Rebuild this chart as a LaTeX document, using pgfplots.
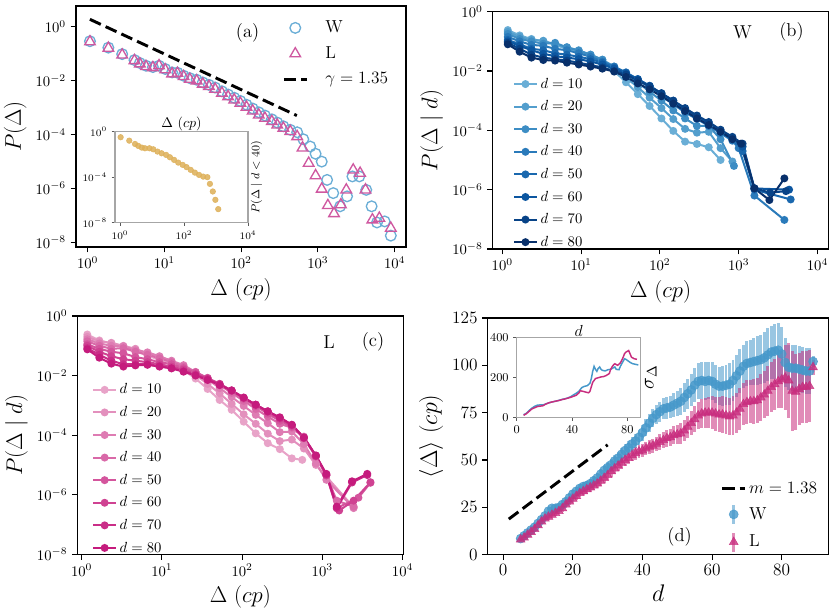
\RequirePackage{fix-cm}
\documentclass[border=0pt]{standalone}
\usepackage{pgfplots}
\usepackage{pgfplotstable}
\pgfplotsset{compat=1.18}
\definecolor{Wa}{RGB}{107,174,214}
\definecolor{La}{RGB}{207,88,160}
\definecolor{Wd}{RGB}{70,152,202}
\definecolor{Ld}{RGB}{200,45,126}
\definecolor{gold}{RGB}{222,176,88}
\definecolor{bA}{RGB}{106,174,214}
\definecolor{bB}{RGB}{83,158,205}
\definecolor{bC}{RGB}{61,141,196}
\definecolor{bD}{RGB}{42,122,186}
\definecolor{bE}{RGB}{26,104,174}
\definecolor{bF}{RGB}{12,86,160}
\definecolor{bG}{RGB}{8,67,135}
\definecolor{bH}{RGB}{8,48,107}
\definecolor{cA}{RGB}{232,163,200}
\definecolor{cB}{RGB}{227,144,189}
\definecolor{cC}{RGB}{222,124,179}
\definecolor{cD}{RGB}{217,105,168}
\definecolor{cE}{RGB}{212,85,157}
\definecolor{cF}{RGB}{207,66,146}
\definecolor{cG}{RGB}{202,46,136}
\definecolor{cH}{RGB}{197,27,125}
\pgfplotstableread{
d m e
5 8.5 1.2
6 10 1.2
7 11.5 1.2
8 13 1.2
9 14.5 1.3
10 16.5 1.3
11 18.5 1.4
12 20.5 1.5
13 23 1.6
14 24.5 1.7
15 24.5 1.8
16 25 1.9
17 26.5 2
18 28 2
19 30 2.1
20 32 2.2
21 33.5 2.3
22 35 2.3
23 36 2.4
24 36.5 2.5
25 37.5 2.5
26 39 2.6
27 40.5 2.7
28 42.5 2.8
29 44.5 2.9
30 46 3
31 47.5 3.1
32 49.5 3.2
33 51 3.3
34 53 3.4
35 55 3.5
36 56.5 3.6
37 58.5 3.7
38 60 3.8
39 62 4
40 64.5 4.2
41 67 4.4
42 69.5 4.6
43 72 4.8
44 74 5
45 75.5 5.2
46 77 5.5
47 77.5 5.8
48 78 6
49 79 6.3
50 80 6.6
51 81 7
52 83 7.5
53 85 8
54 87 8.5
55 89.5 9
56 91.5 9.5
57 92 10
58 91.5 10
59 92 10
60 91.5 10
61 90 10
62 89 10
63 89 10.5
64 89.5 10.5
65 90 11
66 92 11
67 94.5 11
68 97 11.5
69 99.5 11.5
70 101 12
71 101.5 12
72 102 12.5
73 102.5 13
74 103 13
75 104 13.5
76 105.5 14
77 107 14
78 107.5 14.5
79 108 14.5
80 106 14
81 101.5 13
82 99 12
83 98.5 12
84 98.5 12
85 98 12
86 97.5 12
87 97 12
88 97 12
89 102 3
}\Wtab
\pgfplotstableread{
d m e
5 8 1
6 9 1
7 10.5 1
8 12 1.1
9 13.5 1.1
10 15.5 1.2
11 17.5 1.3
12 19 1.4
13 20 1.5
14 21 1.5
15 22 1.6
16 23 1.7
17 24.5 1.8
18 26.5 1.8
19 28 1.9
20 29.5 2
21 31 2
22 32.5 2.1
23 33.5 2.2
24 34.5 2.2
25 35.5 2.3
26 36.5 2.4
27 37.5 2.5
28 39 2.5
29 40.5 2.6
30 42 2.7
31 44 2.8
32 45.5 2.8
33 47 2.9
34 48.5 3
35 50 3
36 51 3.1
37 52.5 3.2
38 53.5 3.3
39 54.5 3.4
40 55 3.5
41 56 3.6
42 57 3.7
43 57.5 3.8
44 58.5 3.9
45 59.5 4
46 60.5 4.2
47 61.5 4.4
48 62 4.6
49 63 4.8
50 63.5 5
51 64 5.3
52 65.5 5.6
53 67.5 6
54 69.5 6.4
55 71.5 6.8
56 73.5 7.2
57 74.5 7.6
58 75 8
59 75 8.3
60 75 8.6
61 74.5 9
62 74 9.3
63 74 9.6
64 73.5 10
65 73 10
66 73.5 10.5
67 75 10.5
68 77 11
69 79.5 11
70 80.5 11.5
71 81 11.5
72 81 12
73 81.5 12
74 83 12.5
75 84.5 12.5
76 86.5 13
77 88.5 13
78 90 13.5
79 91.5 14
80 92.5 15
81 93.5 17
82 92 20
83 86.5 21
84 86 20
85 87.5 19
86 88.5 19
87 88.5 19
88 89 19
89 99 4
}\Ltab
\begin{document}
\begin{tikzpicture}
% ---------------- (a)
\begin{axis}[scale only axis, anchor=south west, at={(57pt,275.25pt)}, width=247.5pt, height=180.75pt,
  xmode=log, ymode=log, xminorticks=false, yminorticks=false,
  xtick={1,10,100,1000,10000}, ytick={1e-8,1e-6,1e-4,1e-2,1},
  axis line style={line width=0.8pt}, tick align=outside, tick pos=left, major tick length=4pt,
  every tick/.style={black,line width=0.8pt},
  tick label style={font=\fontsize{11}{13}\selectfont},
  label style={font=\fontsize{17}{20}\selectfont},
  xmin=0.705, xmax=14060, ymin=6.6e-9, ymax=5.84,
  xlabel={$\Delta\ (cp)$}, ylabel={$P(\Delta)$},
  legend cell align=left,
  legend style={at={(0.955,0.95)}, anchor=north east, draw=none, fill=none, inner sep=0pt,
    row sep=5pt, font=\fontsize{13}{15}\selectfont, column sep=11pt}]
\addplot[only marks, mark=o, mark size=4pt, Wa, line width=1pt] coordinates {
(1.072,0.288)(1.862,0.166)(2.818,0.0955)(4.074,0.0575)(4.786,0.0447)(5.754,0.0355)(7.079,0.0316)(8.511,0.0355)(10.23,0.0269)(12.59,0.0200)(14.79,0.0195)(17.78,0.0151)(21.38,0.0123)(26.30,0.0107)(31.62,8.51e-3)(38.02,6.92e-3)(45.71,5.50e-3)(56.23,3.98e-3)(67.61,3.02e-3)(81.28,2.29e-3)(97.72,1.74e-3)(117.5,1.26e-3)(141.3,9.12e-4)(169.8,6.61e-4)(204.2,5.01e-4)(251.2,3.63e-4)(295.1,2.75e-4)(354.8,2.00e-4)(436.5,1.48e-4)(537.0,1.20e-4)(645.7,6.61e-5)(794.3,3.55e-5)(933.3,1.91e-5)(1122,9.77e-6)(1318,2.04e-6)(1585,6.61e-7)(1950,2.14e-7)(2399,5.01e-7)(2818,2.75e-6)(3467,2.75e-6)(4266,8.71e-7)(5012,2.14e-7)(5888,5.37e-8)(7413,5.89e-8)(8913,1.74e-8)};
\addlegendentry{W}
\addplot[only marks, mark=triangle, mark size=4.6pt, La, line width=1pt] coordinates {
(1.072,0.275)(1.862,0.1585)(2.818,0.0891)(4.074,0.0550)(4.786,0.0417)(5.754,0.0331)(7.079,0.0302)(8.511,0.0355)(10.23,0.0251)(12.59,0.0178)(14.79,0.0186)(17.78,0.0141)(21.38,0.0112)(26.30,9.77e-3)(31.62,7.41e-3)(38.02,6.03e-3)(45.71,4.79e-3)(56.23,3.39e-3)(67.61,2.51e-3)(81.28,1.91e-3)(97.72,1.445e-3)(117.5,1.023e-3)(141.3,7.41e-4)(169.8,5.25e-4)(204.2,3.98e-4)(251.2,3.02e-4)(295.1,2.24e-4)(354.8,1.70e-4)(436.5,1.29e-4)(537.0,8.32e-5)(631.0,3.16e-5)(758.6,8.51e-6)(933.3,2.95e-6)(1122,9.33e-7)(1349,2.29e-7)(1622,1.15e-7)(1995,2.45e-7)(2344,8.71e-7)(2884,4.79e-6)(3548,3.63e-6)(4169,8.71e-7)(5129,6.76e-8)(6310,7.76e-8)(8913,3.31e-8)};
\addlegendentry{L}
\addplot[black, line width=2.2pt, dash pattern=on 9pt off 4pt] coordinates {(1.07,1.87)(532,5.0e-4)};
\addlegendentry{$\gamma=1.35$}
\node[font=\fontsize{14}{16}\selectfont] at (rel axis cs:0.52,0.89) {(a)};
\end{axis}
% inset (a)
\begin{axis}[scale only axis, anchor=south west, at={(86.25pt,293.5pt)}, width=99.75pt, height=68.25pt,
  xmode=log, ymode=log, xmin=0.698, xmax=1e4, ymin=1e-8, ymax=1,
  xtick={1,100,10000}, ytick={1e-8,1e-4,1}, xminorticks=false, yminorticks=false,
  axis line style={gray!70, line width=0.8pt}, tick align=outside, tick pos=left,
  major tick length=2.5pt, every tick/.style={gray!70!black, line width=0.6pt},
  tick label style={font=\fontsize{7.5}{9}\selectfont},
  axis background/.style={fill=white},
  every axis x label/.style={at={(rel axis cs:0.5,1)}, anchor=south, inner sep=0.5pt, font=\fontsize{10.5}{12}\selectfont},
  every axis y label/.style={at={(rel axis cs:1,0.5)}, rotate=90, anchor=north, inner sep=2pt, font=\fontsize{8.5}{10}\selectfont},
  xlabel={$\Delta\ (cp)$}, ylabel={$P(\Delta\mid d<40)$}]
\addplot[only marks, mark=*, mark size=2.1pt, gold, mark options={fill=gold, draw=gold, opacity=0.85}] coordinates {
(1.047,0.324)(1.950,0.162)(2.951,0.0832)(3.715,0.0562)(4.786,0.0398)(6.026,0.0347)(8.318,0.0347)(10.96,0.0282)(14.79,0.0178)(19.95,0.0126)(27.54,9.12e-3)(36.31,5.62e-3)(48.98,3.31e-3)(66.07,1.91e-3)(91.20,1.20e-3)(120.2,7.59e-4)(162.2,4.37e-4)(218.8,2.51e-4)(295.1,1.585e-4)(398.1,1.12e-4)(537.0,1.0e-4)(645.7,2.57e-5)(794.3,5.50e-6)(955.0,1.02e-6)(1175,1.55e-7)};
\end{axis}
% ---------------- (b)
\begin{axis}[scale only axis, anchor=south west, at={(369.5pt,273.75pt)}, width=251.85pt, height=178pt,
  xmode=log, ymode=log, xminorticks=false, yminorticks=false,
  xtick={1,10,100,1000,10000}, ytick={1e-8,1e-6,1e-4,1e-2,1},
  axis line style={line width=0.8pt}, tick align=outside, tick pos=left, major tick length=4pt,
  every tick/.style={black,line width=0.8pt},
  tick label style={font=\fontsize{11}{13}\selectfont},
  label style={font=\fontsize{17}{20}\selectfont},
  xmin=0.755, xmax=13800, ymin=1e-8, ymax=1,
  xlabel={$\Delta\ (cp)$}, ylabel={$P(\Delta\;|\;d)$},
  legend cell align=left,
  legend style={at={(0.06,0.733)}, anchor=north west, draw=none, fill=none, inner sep=0pt,
    row sep=3.8pt, font=\fontsize{11}{13}\selectfont}]
\addplot[bA, mark=*, mark size=2.2pt, line width=1.5pt, mark options={fill=bA}] coordinates {(1.175,0.240)(1.660,0.1585)(2.344,0.1202)(3.311,0.1)(4.677,0.0759)(6.607,0.0562)(9.333,0.0468)(13.18,0.0316)(18.62,0.0209)(26.30,0.0100)(37.15,4.17e-3)(52.48,1.66e-3)(74.13,6.61e-4)(104.7,2.51e-4)(147.9,9.55e-5)(208.9,4.17e-5)(295.1,3.47e-5)(416.9,2.69e-5)(588.8,1.0e-5)};
\addlegendentry{$d=10$}
\addplot[bB, mark=*, mark size=2.2pt, line width=1.5pt, mark options={fill=bB}] coordinates {(1.175,0.209)(1.660,0.1413)(2.344,0.1122)(3.311,0.1047)(4.677,0.0794)(6.607,0.0631)(9.333,0.0501)(13.18,0.0355)(18.62,0.0240)(26.30,0.0120)(37.15,6.03e-3)(52.48,2.82e-3)(74.13,1.26e-3)(104.7,5.62e-4)(147.9,2.40e-4)(208.9,1.12e-4)(295.1,8.32e-5)(416.9,8.91e-5)(588.8,2.51e-5)(831.8,8.91e-6)};
\addlegendentry{$d=20$}
\addplot[bC, mark=*, mark size=2.2pt, line width=1.5pt, mark options={fill=bC}] coordinates {(1.175,0.178)(1.660,0.1202)(2.344,0.1)(3.311,0.0832)(4.677,0.0891)(6.607,0.0631)(9.333,0.0479)(13.18,0.0355)(18.62,0.0240)(26.30,0.0141)(37.15,7.94e-3)(52.48,4.17e-3)(74.13,2.0e-3)(104.7,1.0e-3)(147.9,4.68e-4)(208.9,2.51e-4)(295.1,1.41e-4)(416.9,1.41e-4)(588.8,5.01e-5)(871,6.31e-6)};
\addlegendentry{$d=30$}
\addplot[bD, mark=*, mark size=2.2pt, line width=1.5pt, mark options={fill=bD}] coordinates {(1.175,0.1413)(1.660,0.1)(2.344,0.0759)(3.311,0.0708)(4.677,0.0562)(6.607,0.0501)(9.333,0.0398)(13.18,0.0302)(18.62,0.0209)(26.30,0.0141)(37.15,8.91e-3)(52.48,5.01e-3)(74.13,2.82e-3)(104.7,1.41e-3)(147.9,7.59e-4)(208.9,3.98e-4)(295.1,2.40e-4)(416.9,1.41e-4)(588.8,7.94e-5)(831.8,4.47e-5)(1000,2.51e-5)(1585,6.31e-7)(3802,9.55e-8)};
\addlegendentry{$d=40$}
\addplot[bE, mark=*, mark size=2.2pt, line width=1.5pt, mark options={fill=bE}] coordinates {(1.175,0.1122)(1.660,0.0794)(2.344,0.0562)(3.311,0.0501)(4.677,0.0398)(6.607,0.0355)(9.333,0.0302)(13.18,0.0251)(18.62,0.0191)(26.30,0.0132)(37.15,8.91e-3)(52.48,5.37e-3)(74.13,3.16e-3)(104.7,1.66e-3)(147.9,8.91e-4)(208.9,4.79e-4)(295.1,2.63e-4)(416.9,1.585e-4)(588.8,8.91e-5)(831.8,5.01e-5)(1122,2.0e-5)(1585,1.0e-6)(4571,4.68e-7)};
\addlegendentry{$d=50$}
\addplot[bF, mark=*, mark size=2.2pt, line width=1.5pt, mark options={fill=bF}] coordinates {(1.175,0.1)(1.660,0.0708)(2.344,0.0501)(3.311,0.0380)(4.677,0.0316)(6.607,0.0282)(9.333,0.0251)(13.18,0.0209)(18.62,0.0166)(26.30,0.0120)(37.15,8.32e-3)(52.48,5.25e-3)(74.13,3.16e-3)(104.7,1.78e-3)(147.9,1.0e-3)(208.9,5.25e-4)(295.1,3.02e-4)(416.9,1.78e-4)(588.8,1.0e-4)(831.8,5.62e-5)(1122,2.82e-5)(1585,1.10e-6)(4365,1.0e-6)};
\addlegendentry{$d=60$}
\addplot[bG, mark=*, mark size=2.2pt, line width=1.5pt, mark options={fill=bG}] coordinates {(1.175,0.0891)(1.660,0.0562)(2.344,0.0355)(3.311,0.0282)(4.677,0.0251)(6.607,0.0224)(9.333,0.0191)(13.18,0.0158)(18.62,0.0132)(26.30,0.0100)(37.15,7.59e-3)(52.48,4.79e-3)(74.13,3.02e-3)(104.7,1.78e-3)(147.9,1.0e-3)(208.9,5.62e-4)(295.1,3.16e-4)(416.9,1.91e-4)(588.8,1.05e-4)(831.8,6.03e-5)(1122,3.55e-5)(1585,1.12e-6)(2512,7.94e-7)(3981,8.91e-7)};
\addlegendentry{$d=70$}
\addplot[bH, mark=*, mark size=2.2pt, line width=1.5pt, mark options={fill=bH}] coordinates {(1.175,0.0794)(1.660,0.0447)(2.344,0.0282)(3.311,0.0234)(4.677,0.0224)(6.607,0.0191)(9.333,0.0166)(13.18,0.0141)(18.62,0.0120)(26.30,9.55e-3)(37.15,6.31e-3)(52.48,3.80e-3)(74.13,2.40e-3)(104.7,1.41e-3)(147.9,7.94e-4)(208.9,4.47e-4)(295.1,2.51e-4)(416.9,1.51e-4)(588.8,8.91e-5)(831.8,5.01e-5)(1072,3.55e-5)(1585,1.10e-6)(2455,4.47e-7)(3802,2.40e-6)};
\addlegendentry{$d=80$}
\node[font=\fontsize{14}{16}\selectfont] at (rel axis cs:0.744,0.914) {W};
\node[font=\fontsize{14}{16}\selectfont] at (rel axis cs:0.89,0.914) {(b)};
\end{axis}
% ---------------- (c)
\begin{axis}[scale only axis, anchor=south west, at={(58pt,44.8pt)}, width=244.5pt, height=178.7pt,
  xmode=log, ymode=log, xminorticks=false, yminorticks=false,
  xtick={1,10,100,1000,10000}, ytick={1e-8,1e-6,1e-4,1e-2,1},
  axis line style={line width=0.8pt}, tick align=outside, tick pos=left, major tick length=4pt,
  every tick/.style={black,line width=0.8pt},
  tick label style={font=\fontsize{11}{13}\selectfont},
  label style={font=\fontsize{17}{20}\selectfont},
  xmin=0.883, xmax=10230, ymin=1e-8, ymax=1,
  xlabel={$\Delta\ (cp)$}, ylabel={$P(\Delta\;|\;d)$},
  legend cell align=left,
  legend style={at={(0.045,0.728)}, anchor=north west, draw=none, fill=none, inner sep=0pt,
    row sep=3.8pt, font=\fontsize{11}{13}\selectfont}]
\addplot[cA, mark=*, mark size=2.2pt, line width=1.5pt, mark options={fill=cA}] coordinates {(1.175,0.240)(1.660,0.1514)(2.344,0.1202)(3.311,0.0891)(4.677,0.0661)(6.607,0.0479)(9.333,0.0331)(13.18,0.0240)(18.62,0.01514)(26.30,7.94e-3)(37.15,3.55e-3)(52.48,1.514e-3)(74.13,7.08e-4)(104.7,2.82e-4)(147.9,1.148e-4)(208.9,5.37e-5)(295.1,3.39e-5)(416.9,1.66e-5)(562.3,1.479e-5)};
\addlegendentry{$d=10$}
\addplot[cB, mark=*, mark size=2.2pt, line width=1.5pt, mark options={fill=cB}] coordinates {(1.175,0.1995)(1.660,0.1413)(2.344,0.1259)(3.311,0.1)(4.677,0.0794)(6.607,0.0562)(9.333,0.0417)(13.18,0.0282)(18.62,0.0191)(26.30,0.01047)(37.15,5.25e-3)(52.48,2.51e-3)(74.13,1.12e-3)(104.7,5.01e-4)(147.9,2.40e-4)(208.9,1.12e-4)(295.1,6.31e-5)(416.9,7.08e-5)(588.8,3.55e-5)(831.8,1.0e-5)(2455,3.80e-7)};
\addlegendentry{$d=20$}
\addplot[cC, mark=*, mark size=2.2pt, line width=1.5pt, mark options={fill=cC}] coordinates {(1.175,0.166)(1.660,0.1202)(2.344,0.1)(3.311,0.0955)(4.677,0.0708)(6.607,0.0603)(9.333,0.0447)(13.18,0.0316)(18.62,0.0224)(26.30,0.0132)(37.15,7.59e-3)(52.48,3.80e-3)(74.13,1.91e-3)(104.7,9.55e-4)(147.9,4.79e-4)(208.9,2.51e-4)(295.1,1.26e-4)(416.9,1.32e-4)(588.8,5.01e-5)(831.8,1.12e-5)(1122,3.16e-6)(2455,3.55e-7)};
\addlegendentry{$d=30$}
\addplot[cD, mark=*, mark size=2.2pt, line width=1.5pt, mark options={fill=cD}] coordinates {(1.175,0.1413)(1.660,0.1)(2.344,0.0794)(3.311,0.0832)(4.677,0.0631)(6.607,0.0501)(9.333,0.0380)(13.18,0.0282)(18.62,0.0200)(26.30,0.0132)(37.15,8.32e-3)(52.48,4.79e-3)(74.13,2.63e-3)(104.7,1.41e-3)(147.9,7.59e-4)(208.9,4.17e-4)(295.1,2.40e-4)(416.9,1.78e-4)(588.8,8.91e-5)(831.8,2.0e-5)(1122,4.47e-6)(1514,6.31e-7)(2455,3.98e-7)};
\addlegendentry{$d=40$}
\addplot[cE, mark=*, mark size=2.2pt, line width=1.5pt, mark options={fill=cE}] coordinates {(1.175,0.1122)(1.660,0.0794)(2.344,0.0631)(3.311,0.0562)(4.677,0.0417)(6.607,0.0355)(9.333,0.0282)(13.18,0.0240)(18.62,0.0178)(26.30,0.0126)(37.15,8.32e-3)(52.48,5.25e-3)(74.13,3.02e-3)(104.7,1.66e-3)(147.9,9.55e-4)(208.9,5.25e-4)(295.1,3.02e-4)(416.9,1.91e-4)(588.8,7.94e-5)(831.8,1.91e-5)(1122,4.47e-6)(1514,3.55e-7)(2818,7.94e-7)(3981,2.51e-6)};
\addlegendentry{$d=50$}
\addplot[cF, mark=*, mark size=2.2pt, line width=1.5pt, mark options={fill=cF}] coordinates {(1.175,0.1)(1.660,0.0631)(2.344,0.0447)(3.311,0.0355)(4.677,0.0316)(6.607,0.0282)(9.333,0.0240)(13.18,0.0200)(18.62,0.01585)(26.30,0.0112)(37.15,7.94e-3)(52.48,5.25e-3)(74.13,3.16e-3)(104.7,1.78e-3)(147.9,1.05e-3)(208.9,6.03e-4)(295.1,3.55e-4)(416.9,2.09e-4)(588.8,7.94e-5)(831.8,2.0e-5)(1122,4.47e-6)(1622,2.95e-7)(2455,6.31e-7)(3981,2.63e-6)};
\addlegendentry{$d=60$}
\addplot[cG, mark=*, mark size=2.2pt, line width=1.5pt, mark options={fill=cG}] coordinates {(1.175,0.0832)(1.660,0.0501)(2.344,0.0316)(3.311,0.0240)(4.677,0.0240)(6.607,0.0240)(9.333,0.0209)(13.18,0.0178)(18.62,0.0141)(26.30,0.01047)(37.15,7.59e-3)(52.48,5.01e-3)(74.13,3.16e-3)(104.7,1.82e-3)(147.9,1.05e-3)(208.9,6.31e-4)(295.1,3.80e-4)(416.9,2.19e-4)(588.8,8.32e-5)(831.8,2.0e-5)(1122,4.79e-6)(1514,3.55e-7)(2344,2.57e-6)(3631,4.57e-6)};
\addlegendentry{$d=70$}
\addplot[cH, mark=*, mark size=2.2pt, line width=1.5pt, mark options={fill=cH}] coordinates {(1.175,0.0759)(1.660,0.0398)(2.344,0.0251)(3.311,0.0200)(4.677,0.0219)(6.607,0.0229)(9.333,0.0200)(13.18,0.0174)(18.62,0.0135)(26.30,0.0100)(37.15,7.08e-3)(52.48,4.79e-3)(74.13,3.16e-3)(104.7,1.82e-3)(147.9,1.05e-3)(208.9,6.31e-4)(295.1,3.98e-4)(416.9,2.24e-4)(588.8,8.32e-5)(831.8,2.09e-5)(1122,5.01e-6)(1514,3.98e-7)(2344,2.82e-6)(3631,5.01e-6)};
\addlegendentry{$d=80$}
\node[font=\fontsize{14}{16}\selectfont] at (rel axis cs:0.772,0.891) {L};
\node[font=\fontsize{14}{16}\selectfont] at (rel axis cs:0.907,0.891) {(c)};
\end{axis}
% ---------------- (d)
\begin{axis}[scale only axis, anchor=south west, at={(365.8pt,44.5pt)}, width=255.6pt, height=177.5pt,
  axis line style={line width=0.8pt}, tick align=outside, tick pos=left, major tick length=4pt,
  every tick/.style={black,line width=0.8pt},
  xmin=-4.45, xmax=93.45, ymin=0, ymax=125,
  xtick={0,20,40,60,80}, ytick={0,25,50,75,100,125},
  tick label style={font=\fontsize{13}{15}\selectfont},
  label style={font=\fontsize{18}{21}\selectfont},
  xlabel={$d$}, ylabel={$\langle\Delta\rangle\ (cp)$},
  legend cell align=left,
  legend style={at={(0.975,0.32)}, anchor=north east, draw=none, fill=none, inner sep=0pt,
    row sep=4.3pt, font=\fontsize{13}{15}\selectfont}]
\addplot[black, line width=2.2pt, dash pattern=on 9pt off 4pt] coordinates {(1.6,18.8)(30,58)};
\addlegendentry{$m=1.38$}
\addplot[only marks, mark=*, mark size=3.4pt, color=Wd, mark options={fill=Wd, draw=Wd, opacity=0.8},
  legend image code/.code={\draw[Wd, line width=2.2pt, opacity=0.55] (0.3cm,-0.25cm) -- (0.3cm,0.25cm);
    \draw[only marks, mark=*, mark size=3.4pt, Wd, mark options={fill=Wd, opacity=0.8}] plot coordinates {(0.3cm,0cm)};},
  error bars/.cd, y dir=both, y explicit, error mark=none,
  error bar style={line width=2.2pt, Wd, opacity=0.55}]
  table[x=d, y=m, y error=e] {\Wtab};
\addlegendentry{W}
\addplot[only marks, mark=triangle*, mark size=3.8pt, color=Ld, mark options={fill=Ld, draw=Ld, opacity=0.8},
  legend image code/.code={\draw[Ld, line width=2.2pt, opacity=0.55] (0.3cm,-0.25cm) -- (0.3cm,0.25cm);
    \draw[only marks, mark=triangle*, mark size=3.8pt, Ld, mark options={fill=Ld, opacity=0.8}] plot coordinates {(0.3cm,0cm)};},
  error bars/.cd, y dir=both, y explicit, error mark=none,
  error bar style={line width=2.2pt, Ld, opacity=0.55}]
  table[x=d, y=m, y error=e] {\Ltab};
\addlegendentry{L}
\node[font=\fontsize{14}{16}\selectfont] at (rel axis cs:0.563,0.075) {(d)};
\end{axis}
% inset (d)
\begin{axis}[scale only axis, anchor=south west, at={(387.5pt,147.5pt)}, width=93pt, height=60pt,
  xmin=0, xmax=89.7, ymin=0, ymax=400, xtick={0,40,80}, ytick={0,200,400},
  axis line style={gray!70, line width=0.8pt}, tick align=outside, tick pos=left,
  major tick length=2.5pt, every tick/.style={gray!70!black, line width=0.6pt},
  tick label style={font=\fontsize{9}{11}\selectfont},
  axis background/.style={fill=white},
  every axis x label/.style={at={(rel axis cs:0.5,1)}, anchor=south, inner sep=0.5pt, font=\fontsize{12}{14}\selectfont},
  every axis y label/.style={at={(rel axis cs:1,0.5)}, rotate=90, anchor=north, inner sep=3pt, font=\fontsize{15}{17}\selectfont},
  xlabel={$d$}, ylabel={$\sigma_\Delta$}]
\addplot[Wd, line width=1.1pt] coordinates {(5,13)(7,20)(9,34)(11,46)(13,55)(15,61)(17,62)(19,62)(21,67)(23,72)(25,76)(27,79)(29,82)(31,86)(33,90)(35,93)(37,97)(39,103)(41,112)(43,120)(45,130)(47,148)(49,155)(51,158)(53,170)(54,194)(55,230)(56,255)(57,240)(58,230)(59,245)(60,252)(61,240)(62,235)(64,232)(66,238)(68,240)(70,248)(71,252)(72,240)(74,238)(75,255)(76,268)(77,280)(78,293)(79,290)(80,285)(82,275)(84,268)(86,265)(88,262)};
\addplot[Ld, line width=1.1pt] coordinates {(5,10)(7,18)(9,30)(11,42)(13,48)(15,54)(17,56)(19,58)(21,66)(23,72)(25,76)(27,79)(29,82)(31,85)(33,89)(35,92)(37,96)(39,100)(41,105)(43,110)(45,122)(46,133)(48,130)(50,126)(52,123)(53,130)(54,153)(55,175)(57,194)(59,198)(61,202)(63,204)(65,210)(67,219)(68,240)(69,252)(70,262)(71,268)(73,260)(75,272)(76,285)(77,300)(78,318)(79,326)(80,330)(81,334)(82,318)(83,301)(85,293)(87,290)};
\end{axis}
\pgfresetboundingbox
\path (0pt,0pt) rectangle (622.5pt,460.5pt);
\end{tikzpicture}
\end{document}
